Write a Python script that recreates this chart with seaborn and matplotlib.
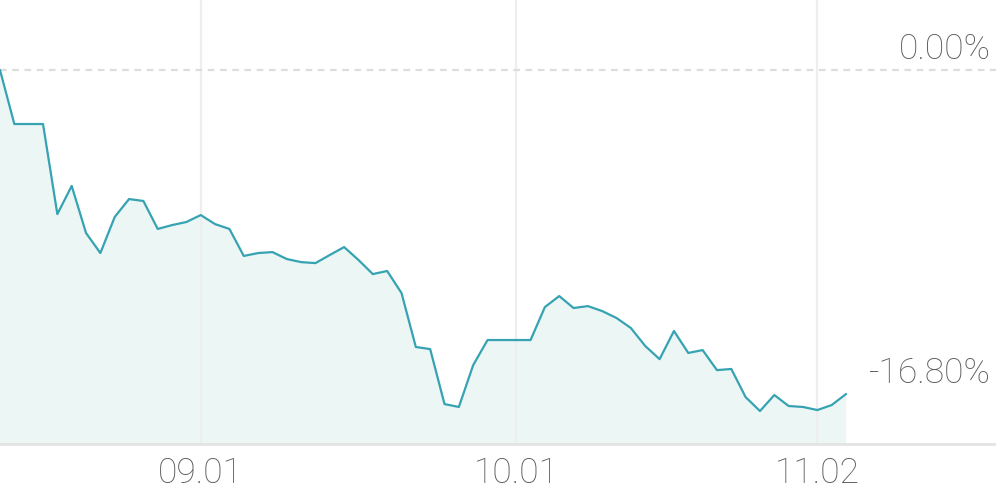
import matplotlib
matplotlib.use("Agg")
import matplotlib.pyplot as plt
import seaborn as sns
import pandas as pd
import numpy as np

# Data: cumulative return (%) per trading day
returns = [0.00, -2.80, -2.80, -2.80, -7.47, -6.01, -8.45, -9.49, -7.62, -6.69,
           -6.79, -8.24, -8.04, -7.88, -7.52, -7.99, -8.24, -9.64, -9.49, -9.44,
           -9.80, -9.96, -10.01, -9.59, -9.18, -9.85, -10.58, -10.42, -11.56, -14.36,
           -14.47, -17.32, -17.47, -15.30, -14.00, -14.00, -14.00, -14.00, -12.29, -11.72,
           -12.34, -12.24, -12.50, -12.86, -13.38, -14.31, -14.99, -13.53, -14.67, -14.52,
           -15.56, -15.50, -16.96, -17.68, -16.85, -17.42, -17.47, -17.63, -17.37, -16.80]
tick_labels = ["09.01", "10.01", "11.02"]
tick_index = [14, 36, 57]
ref_labels = ["0.00%", "-16.80%"]
ref_values = [0.00, -16.80]

df = pd.DataFrame({"day": np.arange(len(returns)), "ret": returns})

sns.set_theme(style="white")
plt.rcParams["font.family"] = ["Roboto", "DejaVu Sans"]

fig = plt.figure(figsize=(9.96, 4.9), dpi=100)
ax = fig.add_axes([0, 46 / 490, 1, 444 / 490])

line_color = "#36a3b3"
text_color = "#5c5c5c"
ax.fill_between(df["day"], df["ret"], -30, color="#ecf6f5", lw=0, zorder=1)
for t in tick_index:
    ax.axvline(t, color="#eeeeee", lw=1.6, zorder=2)
sns.lineplot(data=df, x="day", y="ret", ax=ax, color=line_color, lw=1.6, zorder=3)
ax.axhline(0, color="#dddddd", lw=1.6, ls=(0, (3, 2.5)), zorder=2)

ax.set_xlim(0, 69.46)
ax.set_ylim(-19.39, 3.63)

for lab, val in zip(ref_labels, ref_values):
    ax.annotate(lab, xy=(1, val), xycoords=("axes fraction", "data"),
                xytext=(-4, 8), textcoords="offset points",
                ha="right", va="baseline", fontsize=25.5, color=text_color,
                fontweight="light")

ax.set_xticks(tick_index)
ax.set_xticklabels(tick_labels, fontsize=25.5, color=text_color, fontweight="light")
ax.set_yticks([])
ax.tick_params(axis="x", length=0, pad=9)
ax.set_xlabel("")
ax.set_ylabel("")
for s in ["top", "left", "right"]:
    ax.spines[s].set_visible(False)
ax.spines["bottom"].set_color("#e3e3e3")
ax.spines["bottom"].set_linewidth(2)
ax.spines["bottom"].set_zorder(4)

fig.savefig("out.png", dpi=100)
